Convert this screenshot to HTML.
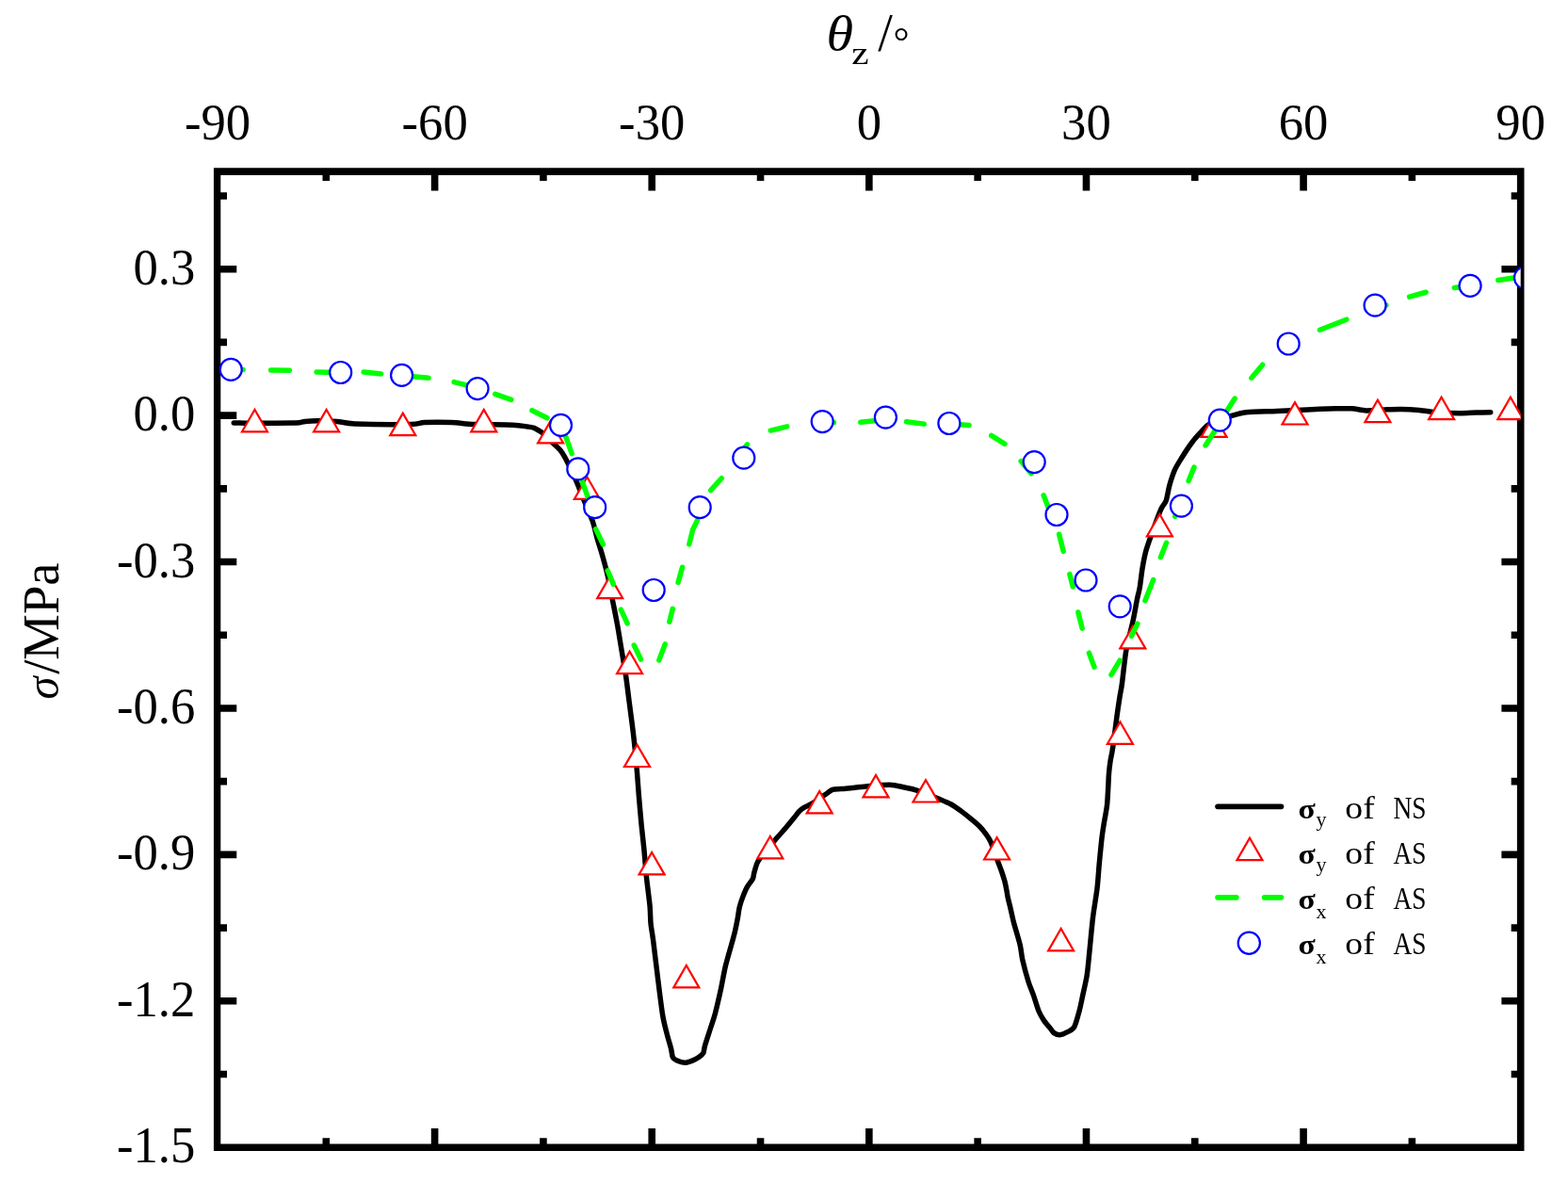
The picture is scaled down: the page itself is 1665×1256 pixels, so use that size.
<!DOCTYPE html>
<html lang="en"><head><meta charset="utf-8"><title>Stress distribution versus angle</title>
<style>html,body{margin:0;padding:0;background:#fff}svg{display:block}.t{font-family:'Liberation Serif', serif;font-size:54px;fill:#000}.lg{font-family:'Liberation Serif', serif;fill:#000}</style></head><body>
<svg width="1665" height="1256" viewBox="0 0 1665 1256">
<rect width="1665" height="1256" fill="#fff"/>
<defs><clipPath id="plot"><rect x="231" y="182.1" width="1383.7" height="1036.1"/></clipPath></defs>
<g stroke="#000" stroke-width="7.6" fill="none" stroke-linecap="butt">
<path stroke="none" fill="#000" fill-rule="evenodd" d="M226.95 178.3H1618.5V1222H226.95ZM234.3 185.9V1214.4H1610.9V185.9Z"/>
<path d="M346.31 182.1v10M346.31 1218.2v-10M461.62 182.1v20.3M461.62 1218.2v-20.3M576.92 182.1v10M576.92 1218.2v-10M692.23 182.1v20.3M692.23 1218.2v-20.3M807.54 182.1v10M807.54 1218.2v-10M922.85 182.1v20.3M922.85 1218.2v-20.3M1038.16 182.1v10M1038.16 1218.2v-10M1153.47 182.1v20.3M1153.47 1218.2v-20.3M1268.78 182.1v10M1268.78 1218.2v-10M1384.08 182.1v20.3M1384.08 1218.2v-20.3M1499.39 182.1v10M1499.39 1218.2v-10M231 1140.49h10M1614.7 1140.49h-10M231 1062.79h20.3M1614.7 1062.79h-20.3M231 985.08h10M1614.7 985.08h-10M231 907.37h20.3M1614.7 907.37h-20.3M231 829.66h10M1614.7 829.66h-10M231 751.96h20.3M1614.7 751.96h-20.3M231 674.25h10M1614.7 674.25h-10M231 596.54h20.3M1614.7 596.54h-20.3M231 518.83h10M1614.7 518.83h-10M231 441.12h20.3M1614.7 441.12h-20.3M231 363.42h10M1614.7 363.42h-10M231 285.71h20.3M1614.7 285.71h-20.3M231 208h10M1614.7 208h-10"/>
</g>
<g class="t" text-anchor="middle">
<text transform="translate(231 148) scale(0.976 1)">-90</text>
<text transform="translate(461.62 148) scale(0.976 1)">-60</text>
<text transform="translate(692.23 148) scale(0.976 1)">-30</text>
<text transform="translate(922.85 148) scale(0.976 1)">0</text>
<text transform="translate(1153.47 148) scale(0.976 1)">30</text>
<text transform="translate(1384.08 148) scale(0.976 1)">60</text>
<text transform="translate(1614.7 148) scale(0.976 1)">90</text>
</g>
<g class="t" text-anchor="end">
<text transform="translate(207.4 301.71) scale(0.976 1)">0.3</text>
<text transform="translate(207.4 457.12) scale(0.976 1)">0.0</text>
<text transform="translate(207.4 612.54) scale(0.976 1)">-0.3</text>
<text transform="translate(207.4 767.95) scale(0.976 1)">-0.6</text>
<text transform="translate(207.4 923.37) scale(0.976 1)">-0.9</text>
<text transform="translate(207.4 1078.79) scale(0.976 1)">-1.2</text>
<text transform="translate(207.4 1234.2) scale(0.976 1)">-1.5</text>
</g>
<g class="t">
<text transform="translate(877.6 53.3) scale(1.12 1)" font-style="italic" font-size="52">θ</text>
<text transform="translate(904.2 68.4) scale(1.2 1)" font-size="34.4">z</text>
<text transform="translate(932.3 54.3)" font-size="56">/</text>
<text transform="translate(948.5 57.7)" font-size="42.7">°</text>
<text transform="translate(61.9 742.6) rotate(-90) scale(0.97 1)" font-style="italic" font-size="50">σ</text>
<text transform="translate(61.9 715.8) rotate(-90)" font-size="54.6">/MPa</text>
</g>
<g clip-path="url(#plot)">
<path fill="none" stroke="#000" stroke-width="5.5" stroke-linejoin="round" stroke-linecap="round" d="M248.3 449.1C256.78 449.1 301.82 449.33 311.9 449.1C321.98 448.87 320.54 447.72 323.9 447.4C327.26 447.08 332.62 446.7 337.1 446.7C341.58 446.7 352.22 446.96 357.5 447.4C362.78 447.84 366.21 449.59 376.7 450C387.19 450.41 426.35 450.69 436.2 450.5C446.05 450.31 444.83 448.85 450.6 448.6C456.37 448.35 472.45 448.35 479.5 448.6C486.55 448.85 494.86 450.15 503.5 450.5C512.14 450.85 536.77 450.87 544.3 451.2C551.83 451.53 556.95 452.59 560 453C563.05 453.41 565.45 453.67 567.2 454.3C568.95 454.93 571.66 456.77 573.1 457.7C574.54 458.63 576.15 459.62 578 461.3C579.85 462.98 584.6 467.9 587 470.3C589.4 472.7 593.84 476.42 596 479.3C598.16 482.18 601.03 487.58 603.2 491.9C605.37 496.22 610.13 506.66 612.3 511.7C614.47 516.74 617.25 524.17 619.5 529.7C621.75 535.23 627.27 547.67 629.2 553.2C631.13 558.73 632.56 566.16 634 571.2C635.44 576.24 638.45 585.48 640 591C641.55 596.52 644.24 606.6 645.6 612.6C646.96 618.6 648.88 629.28 650.2 636C651.52 642.72 654.19 655.8 655.5 663C656.81 670.2 658.8 682.8 660 690C661.2 697.2 663.43 709.8 664.5 717C665.57 724.2 666.92 735.6 668 744C669.08 752.4 671.53 770.67 672.6 780C673.67 789.33 675.23 805.33 676 814C676.77 822.67 677.72 836.77 678.4 845C679.08 853.23 680.38 868.25 681.1 875.7C681.82 883.15 683.08 893.46 683.8 900.9C684.52 908.34 685.66 923.33 686.5 931.5C687.34 939.67 689.5 955.71 690.1 962.2C690.7 968.69 690.52 975.29 691 980.2C691.48 985.11 692.74 991.56 693.7 999C694.66 1006.44 696.88 1025.53 698.2 1036C699.52 1046.47 702.28 1069.33 703.6 1077.5C704.92 1085.67 706.9 1092.5 708.1 1097.3C709.3 1102.1 711.76 1110.14 712.6 1113.5C713.44 1116.86 713.56 1120.82 714.4 1122.5C715.24 1124.18 717.22 1125.33 718.9 1126.1C720.58 1126.87 724.84 1128.3 727 1128.3C729.16 1128.3 733.06 1126.91 735.1 1126.1C737.14 1125.29 740.74 1123.28 742.3 1122.2C743.86 1121.12 745.96 1119.64 746.8 1118C747.64 1116.36 747.51 1113.63 748.6 1109.9C749.69 1106.17 753.55 1094.56 755 1090C756.45 1085.44 758.06 1081.22 759.5 1075.7C760.94 1070.18 764.36 1055.23 765.8 1048.6C767.24 1041.97 768.74 1032.48 770.3 1026C771.86 1019.52 776.15 1004.91 777.5 1000C778.85 995.09 779.64 992.45 780.4 989.2C781.16 985.95 782.56 979.04 783.2 975.6C783.84 972.16 784.48 966.47 785.2 963.4C785.92 960.33 787.52 955.48 788.6 952.6C789.68 949.72 791.86 944.41 793.3 941.8C794.74 939.19 798.41 934.99 799.4 933C800.39 931.01 800.07 929.15 800.7 926.9C801.33 924.65 802.93 918.62 804.1 916.1C805.27 913.58 806.97 911.25 809.5 908C812.03 904.75 819.85 895.5 823.1 891.7C826.35 887.9 831.19 882.66 833.9 879.5C836.61 876.34 841.41 870.43 843.4 868C845.39 865.57 847.36 862.74 848.8 861.3C850.24 859.86 852.4 858.28 854.2 857.2C856 856.12 859.23 855.09 862.3 853.2C865.37 851.31 874.31 844.99 877.2 843C880.09 841.01 881.84 839.02 884 838.3C886.16 837.58 890.6 837.85 893.4 837.6C896.2 837.35 901.52 836.75 905 836.4C908.48 836.05 914.21 835.43 919.5 835C924.79 834.57 939.23 833.07 944.7 833.2C950.17 833.33 956.66 835.21 960.5 836C964.34 836.79 968.51 837.42 973.5 839.1C978.49 840.78 993.02 846.61 997.9 848.6C1002.78 850.59 1007.03 852.29 1010.1 854C1013.17 855.71 1018.19 859.41 1020.9 861.4C1023.61 863.39 1027.88 866.82 1030.4 868.9C1032.92 870.98 1037.64 874.84 1039.8 877C1041.96 879.16 1044.97 882.85 1046.6 885.1C1048.23 887.35 1050.28 890.02 1052 893.9C1053.72 897.78 1057.97 910.05 1059.5 914.2C1061.03 918.35 1062.51 922.12 1063.5 925C1064.49 927.88 1066.18 933.09 1066.9 935.8C1067.62 938.51 1068.45 942.95 1068.9 945.3C1069.35 947.65 1069.75 950.87 1070.3 953.4C1070.85 955.93 1072.19 960.86 1073 964.3C1073.81 967.74 1075.05 974.05 1076.4 979.2C1077.75 984.35 1081.85 997.58 1083.1 1002.9C1084.35 1008.22 1084.6 1013.82 1085.8 1019.1C1087 1024.38 1090.54 1037.46 1092.1 1042.5C1093.66 1047.54 1096.06 1052.81 1097.5 1056.9C1098.94 1060.99 1101.46 1069.71 1102.9 1073.2C1104.34 1076.69 1106.62 1080.58 1108.3 1083.1C1109.98 1085.62 1114.06 1090.3 1115.5 1092.1C1116.94 1093.9 1117.78 1095.72 1119.1 1096.6C1120.42 1097.48 1123.48 1098.82 1125.4 1098.7C1127.32 1098.58 1131.46 1096.82 1133.5 1095.7C1135.54 1094.58 1139.02 1093.3 1140.7 1090.3C1142.38 1087.3 1144.9 1077.65 1146.1 1073.2C1147.3 1068.75 1148.62 1061.95 1149.7 1056.9C1150.78 1051.85 1153.24 1041.54 1154.2 1035.3C1155.16 1029.06 1156.06 1018.26 1156.9 1010.1C1157.74 1001.94 1159.42 982.99 1160.5 974.1C1161.58 965.21 1164.13 950.61 1165 943.4C1165.87 936.19 1166.6 924.56 1167 920C1167.4 915.44 1167.59 913.36 1168 909.2C1168.41 905.04 1169.55 893.32 1170.1 888.8C1170.65 884.28 1171.38 879.81 1172.1 875.3C1172.82 870.79 1174.87 860.41 1175.5 855C1176.13 849.59 1176.53 839.21 1176.8 834.7C1177.07 830.19 1177.19 824.8 1177.5 821.2C1177.81 817.6 1178.55 811.31 1179.1 807.7C1179.65 804.09 1180.68 800.42 1181.6 794.1C1182.52 787.78 1185.01 767.51 1186 760.3C1186.99 753.09 1188.28 744.57 1189 740C1189.72 735.43 1190.48 732.67 1191.4 726C1192.32 719.33 1194.35 698.87 1195.9 690C1197.45 681.13 1201.45 666.7 1203 659.5C1204.55 652.3 1206.53 640.79 1207.5 636C1208.47 631.21 1209.57 627.89 1210.3 623.6C1211.03 619.31 1212.16 608.84 1213 603.8C1213.84 598.76 1215.4 590.37 1216.6 585.8C1217.8 581.23 1219.84 575.51 1222 569.5C1224.16 563.49 1230.64 545.74 1232.8 540.7C1234.96 535.66 1237 535.06 1238.2 531.7C1239.4 528.34 1240.6 519.82 1241.8 515.5C1243 511.18 1245.52 503.14 1247.2 499.3C1248.88 495.46 1252 490.54 1254.4 486.7C1256.8 482.86 1262.32 474.35 1265.2 470.5C1268.08 466.65 1273.36 460.57 1276 457.8C1278.64 455.03 1281 451.81 1285 449.7C1289 447.59 1300.91 443.6 1306 442C1311.09 440.4 1316.57 438.45 1323.2 437.7C1329.83 436.95 1347.05 436.77 1355.7 436.4C1364.35 436.03 1379.74 435.25 1388.1 434.9C1396.46 434.55 1412.05 433.95 1418.4 433.8C1424.75 433.65 1431.38 433.52 1435.7 433.8C1440.02 434.08 1446.19 435.75 1450.8 435.9C1455.41 436.05 1465.39 435.1 1470.3 434.9C1475.21 434.7 1482.71 434.32 1487.6 434.4C1492.49 434.48 1501.53 435.01 1507 435.5C1512.47 435.99 1522.83 437.66 1528.6 438.1C1534.37 438.54 1545.1 438.8 1550.3 438.8C1555.5 438.8 1563.28 438.25 1567.6 438.1C1571.92 437.95 1580.69 437.75 1582.7 437.7"/>
<g fill="#fff" stroke="#f00" stroke-width="2.2" stroke-linejoin="miter">
<polygon points="257,458.3 284,458.3 270.5,434.92"/>
<polygon points="333.1,458.3 360.1,458.3 346.6,434.92"/>
<polygon points="414.3,462.1 441.3,462.1 427.8,438.72"/>
<polygon points="500.3,458.3 527.3,458.3 513.8,434.92"/>
<polygon points="571.1,470.4 598.1,470.4 584.6,447.02"/>
<polygon points="609.9,529.8 636.9,529.8 623.4,506.42"/>
<polygon points="634.2,635.2 661.2,635.2 647.7,611.82"/>
<polygon points="655.1,715.1 682.1,715.1 668.6,691.72"/>
<polygon points="663,814 690,814 676.5,790.62"/>
<polygon points="678.6,928.4 705.6,928.4 692.1,905.02"/>
<polygon points="715.3,1048.4 742.3,1048.4 728.8,1025.02"/>
<polygon points="804.3,911.3 831.3,911.3 817.8,887.92"/>
<polygon points="856.7,863.4 883.7,863.4 870.2,840.02"/>
<polygon points="916.5,846.4 943.5,846.4 930,823.02"/>
<polygon points="969.5,851.5 996.5,851.5 983,828.12"/>
<polygon points="1045.1,912.5 1072.1,912.5 1058.6,889.12"/>
<polygon points="1113.1,1009.4 1140.1,1009.4 1126.6,986.02"/>
<polygon points="1175.9,789.8 1202.9,789.8 1189.4,766.42"/>
<polygon points="1189.3,688.4 1216.3,688.4 1202.8,665.02"/>
<polygon points="1217.9,569.3 1244.9,569.3 1231.4,545.92"/>
<polygon points="1275.6,463.9 1302.6,463.9 1289.1,440.52"/>
<polygon points="1361.5,450.5 1388.5,450.5 1375,427.12"/>
<polygon points="1449.4,448.2 1476.4,448.2 1462.9,424.82"/>
<polygon points="1517.1,445.1 1544.1,445.1 1530.6,421.72"/>
<polygon points="1590.4,445.1 1617.4,445.1 1603.9,421.72"/>
</g>
<path fill="none" stroke="#0f0" stroke-width="5.5" stroke-linecap="round" stroke-linejoin="round" d="M247.75 392.4L258.05 392.4M287.65 392.94L307.35 393.26M336.15 395.06L355.25 395.44M386.14 395.07L404.66 396.93M438.74 399.75L455.06 401.25M482.17 405.56L497.33 409.34M525.79 418.32L542.91 424.38M564.96 435.73L580.94 443.77M597.56 456.28L600.5 463L607.22 481.58M618.18 511.31L624.42 528.39M632.6 561.66L640.4 578.04M645.24 605.79L651.36 620.31M659.29 647.17L666.11 661.83M673.21 685.06L680.49 700.04M699.8 700.89L706.3 683.81M710.84 660.24L714.26 646.36M720.07 618.45L724.53 602.25M731.83 577.94L735.7 562.2L740.38 552.66M754.64 520.56L766.26 507.74M787.88 478.91L793.52 471.89M818.26 457.07L835.74 452.83M874.4 448.95L885.4 448.55M913.79 448.35L933.61 446.15M962.49 447.77L981.31 450.13M1006.39 449.62L1029.11 451.58M1052.69 462.44L1066.91 471.36M1084.09 489.58L1095.01 502.72M1108.11 525.8L1113.39 539.4M1124.64 567.26L1129.16 585.34M1135.84 609.56L1139.26 623.04M1144.84 649.96L1149.16 667.14M1156.39 693.21L1162.01 708.19M1180.03 716.3L1189.17 701.2M1201.51 675.34L1207.89 662.16M1215.91 637.8L1224.69 615.6M1232.42 591.7L1238.58 576.3M1247.74 548.41L1249.46 544.29M1262.12 510.6L1267.98 496.1M1280.06 472.92L1291.24 455.48M1299.76 440.82L1311.24 423.08M1328.9 401.33L1340.7 387.27M1401.46 350.21L1429.84 339.19M1462.71 325.54L1471.89 323.96M1496.65 315.16L1514.15 310.24M1544.33 305.46L1558.27 303.74M1590.82 297.58L1609.28 294.72"/>
<g fill="#fff" stroke="#00f" stroke-width="2.2">
<circle cx="245.2" cy="392.4" r="11.5"/>
<circle cx="361.7" cy="395.5" r="11.5"/>
<circle cx="426.6" cy="398.4" r="11.5"/>
<circle cx="507.1" cy="412.6" r="11.5"/>
<circle cx="595.5" cy="451.4" r="11.5"/>
<circle cx="613.8" cy="497.9" r="11.5"/>
<circle cx="631.7" cy="538.7" r="11.5"/>
<circle cx="694.2" cy="626.5" r="11.5"/>
<circle cx="743.2" cy="538.7" r="11.5"/>
<circle cx="789.8" cy="486.2" r="11.5"/>
<circle cx="873.2" cy="447.6" r="11.5"/>
<circle cx="940.4" cy="443.1" r="11.5"/>
<circle cx="1007.9" cy="449.5" r="11.5"/>
<circle cx="1098.2" cy="490.6" r="11.5"/>
<circle cx="1122" cy="546.5" r="11.5"/>
<circle cx="1153" cy="616" r="11.5"/>
<circle cx="1189.2" cy="643.8" r="11.5"/>
<circle cx="1254.4" cy="537.1" r="11.5"/>
<circle cx="1295.3" cy="446.2" r="11.5"/>
<circle cx="1368.2" cy="365" r="11.5"/>
<circle cx="1460.1" cy="324.2" r="11.5"/>
<circle cx="1561.1" cy="303.4" r="11.5"/>
<circle cx="1619.5" cy="294.8" r="11.5"/>
</g>
</g>
<g class="lg">
<path fill="none" stroke="#000" stroke-width="5.7" stroke-linecap="round" d="M1293.05 856.3H1360.45"/>
<polygon fill="#fff" stroke="#f00" stroke-width="2.2" points="1313.5,913.1 1340.5,913.1 1327,889.72"/>
<path fill="none" stroke="#0f0" stroke-width="5.7" stroke-linecap="round" d="M1293.05 952.8H1312.85M1342.65 952.8H1360.45"/>
<circle fill="#fff" stroke="#00f" stroke-width="2.2" cx="1326.3" cy="1001.2" r="11.6"/>
<text transform="translate(1378.4 868.8) scale(1.12 1)" font-weight="bold" font-size="30">σ</text>
<text transform="translate(1397.6 876.6)" font-size="22">y</text>
<text transform="translate(1428.3 868.8) scale(1.1 1)" font-size="34.3">of</text>
<text transform="translate(1479.5 868.8) scale(0.8 1)" font-size="34.3">NS</text>
<text transform="translate(1378.4 917) scale(1.12 1)" font-weight="bold" font-size="30">σ</text>
<text transform="translate(1397.6 924.8)" font-size="22">y</text>
<text transform="translate(1428.3 917) scale(1.1 1)" font-size="34.3">of</text>
<text transform="translate(1479.5 917) scale(0.8 1)" font-size="34.3">AS</text>
<text transform="translate(1378.4 965.1) scale(1.12 1)" font-weight="bold" font-size="30">σ</text>
<text transform="translate(1397.6 974.7)" font-size="22">x</text>
<text transform="translate(1428.3 965.1) scale(1.1 1)" font-size="34.3">of</text>
<text transform="translate(1479.5 965.1) scale(0.8 1)" font-size="34.3">AS</text>
<text transform="translate(1378.4 1013.2) scale(1.12 1)" font-weight="bold" font-size="30">σ</text>
<text transform="translate(1397.6 1022.8)" font-size="22">x</text>
<text transform="translate(1428.3 1013.2) scale(1.1 1)" font-size="34.3">of</text>
<text transform="translate(1479.5 1013.2) scale(0.8 1)" font-size="34.3">AS</text>
</g>
</svg></body></html>
